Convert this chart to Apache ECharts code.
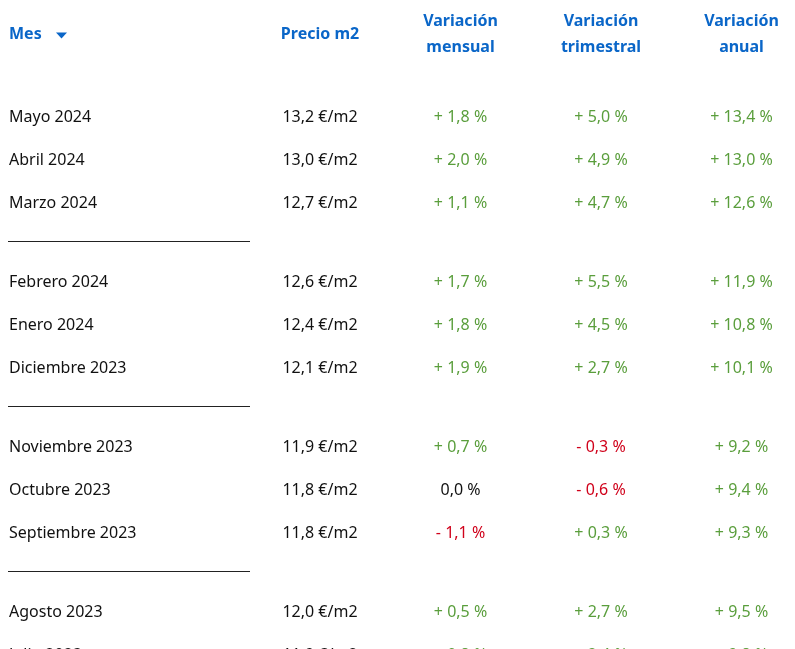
<!DOCTYPE html>
<html>
<head>
<meta charset="utf-8">
<script src="https://cdn.jsdelivr.net/npm/echarts@6/dist/echarts.min.js"></script>
<style>
html,body{margin:0;padding:0;background:#fff;}
#chart{width:795px;height:649px;}
</style>
</head>
<body>
<div id="chart"></div>
<script>
// ---- data ----
var columnas = ['Mes', 'Precio m2', 'Variación\nmensual', 'Variación\ntrimestral', 'Variación\nanual'];
var meses = ['Mayo 2024', 'Abril 2024', 'Marzo 2024', 'Febrero 2024', 'Enero 2024', 'Diciembre 2023',
  'Noviembre 2023', 'Octubre 2023', 'Septiembre 2023', 'Agosto 2023', 'Julio 2023'];
var precio = [13.2, 13.0, 12.7, 12.6, 12.4, 12.1, 11.9, 11.8, 11.8, 12.0, 11.9];
var mensual = [1.8, 2.0, 1.1, 1.7, 1.8, 1.9, 0.7, 0.0, -1.1, 0.5, 0.8];
var trimestral = [5.0, 4.9, 4.7, 5.5, 4.5, 2.7, -0.3, -0.6, 0.3, 2.7, 2.4];
var anual = [13.4, 13.0, 12.6, 11.9, 10.8, 10.1, 9.2, 9.4, 9.3, 9.5, 9.8];
var filasPorGrupo = 3;

// ---- layout helpers ----
var ROW_PX = 43, COL_PX = 140.5;
var GAP = 36 / ROW_PX;      // extra space between groups (row units)
var SEP = 40 / ROW_PX;      // separator offset after last row of group
var HEADER_ROW = -83 / ROW_PX;
var Y_MIN = -116 / ROW_PX, Y_MAX = Y_MIN + 649 / ROW_PX;
var X_MIN = -179.5 / COL_PX, X_MAX = X_MIN + 795 / COL_PX;
var FONT = 'Noto Sans';
var BLUE = '#0a66c8', GREEN = '#5a9e3c', RED = '#d0021b', BLACK = '#111111';
var FIRST_COL_OFFSET = -170.5;
var TEXT_DY = 1;

function rowPos(i) { return i + GAP * Math.floor(i / filasPorGrupo); }
function fmtNum(v) { return Math.abs(v).toFixed(1).replace('.', ','); }
function fmtVar(v) {
  if (v > 0) return '+ ' + fmtNum(v) + ' %';
  if (v < 0) return '- ' + fmtNum(v) + ' %';
  return '0,0 %';
}
function colVar(v) { return v > 0 ? GREEN : (v < 0 ? RED : BLACK); }

var baseLabel = { show: true, position: 'inside', fontFamily: FONT, fontSize: 16, color: BLACK, offset: [0, TEXT_DY] };

var headerData = columnas.map(function (c, k) {
  return {
    value: [k, HEADER_ROW], name: c,
    label: k === 0 ? { align: 'left', offset: [FIRST_COL_OFFSET, TEXT_DY] } : { align: 'center' }
  };
});
var mesData = meses.map(function (m, i) { return { value: [0, rowPos(i)], name: m }; });
var precioData = precio.map(function (p, i) { return { value: [1, rowPos(i)], name: fmtNum(p) + ' €/m2' }; });
function varData(arr, col) {
  return arr.map(function (v, i) {
    return { value: [col, rowPos(i)], name: fmtVar(v), label: { color: colVar(v) } };
  });
}
var sepData = [];
for (var i = filasPorGrupo - 1; i < meses.length - 1; i += filasPorGrupo) {
  sepData.push([0, rowPos(i) + SEP]);
}

function textSeries(data, extra) {
  return {
    type: 'scatter', symbolSize: 0, silent: true, clip: false,
    itemStyle: { opacity: 1 },
    data: data,
    label: Object.assign({}, baseLabel, { formatter: function (p) { return p.name; } }, extra || {})
  };
}

var chart = echarts.init(document.getElementById('chart'), null, { renderer: 'canvas' });
chart.setOption({
  animation: false,
  backgroundColor: '#ffffff',
  grid: { left: 0, top: 0, right: 0, bottom: 0 },
  xAxis: { type: 'value', min: X_MIN, max: X_MAX, show: false },
  yAxis: { type: 'value', inverse: true, min: Y_MIN, max: Y_MAX, show: false },
  series: [
    textSeries(headerData, { fontWeight: 'bold', color: BLUE, lineHeight: 26 }),
    {
      type: 'scatter', silent: true, clip: false,
      symbol: 'triangle', symbolRotate: 180, symbolSize: [11, 6], symbolOffset: [-118, 2.5],
      itemStyle: { color: BLUE, opacity: 1 },
      data: [[0, HEADER_ROW]]
    },
    textSeries(mesData, { align: 'left', offset: [FIRST_COL_OFFSET, TEXT_DY] }),
    textSeries(precioData, { align: 'center' }),
    textSeries(varData(mensual, 2), { align: 'center' }),
    textSeries(varData(trimestral, 3), { align: 'center' }),
    textSeries(varData(anual, 4), { align: 'center' }),
    {
      type: 'scatter', silent: true, clip: false,
      symbol: 'rect', symbolSize: [242, 1], symbolOffset: [-50.5, -0.5],
      itemStyle: { color: '#222222', opacity: 1 },
      data: sepData
    }
  ]
});
</script>
</body>
</html>
